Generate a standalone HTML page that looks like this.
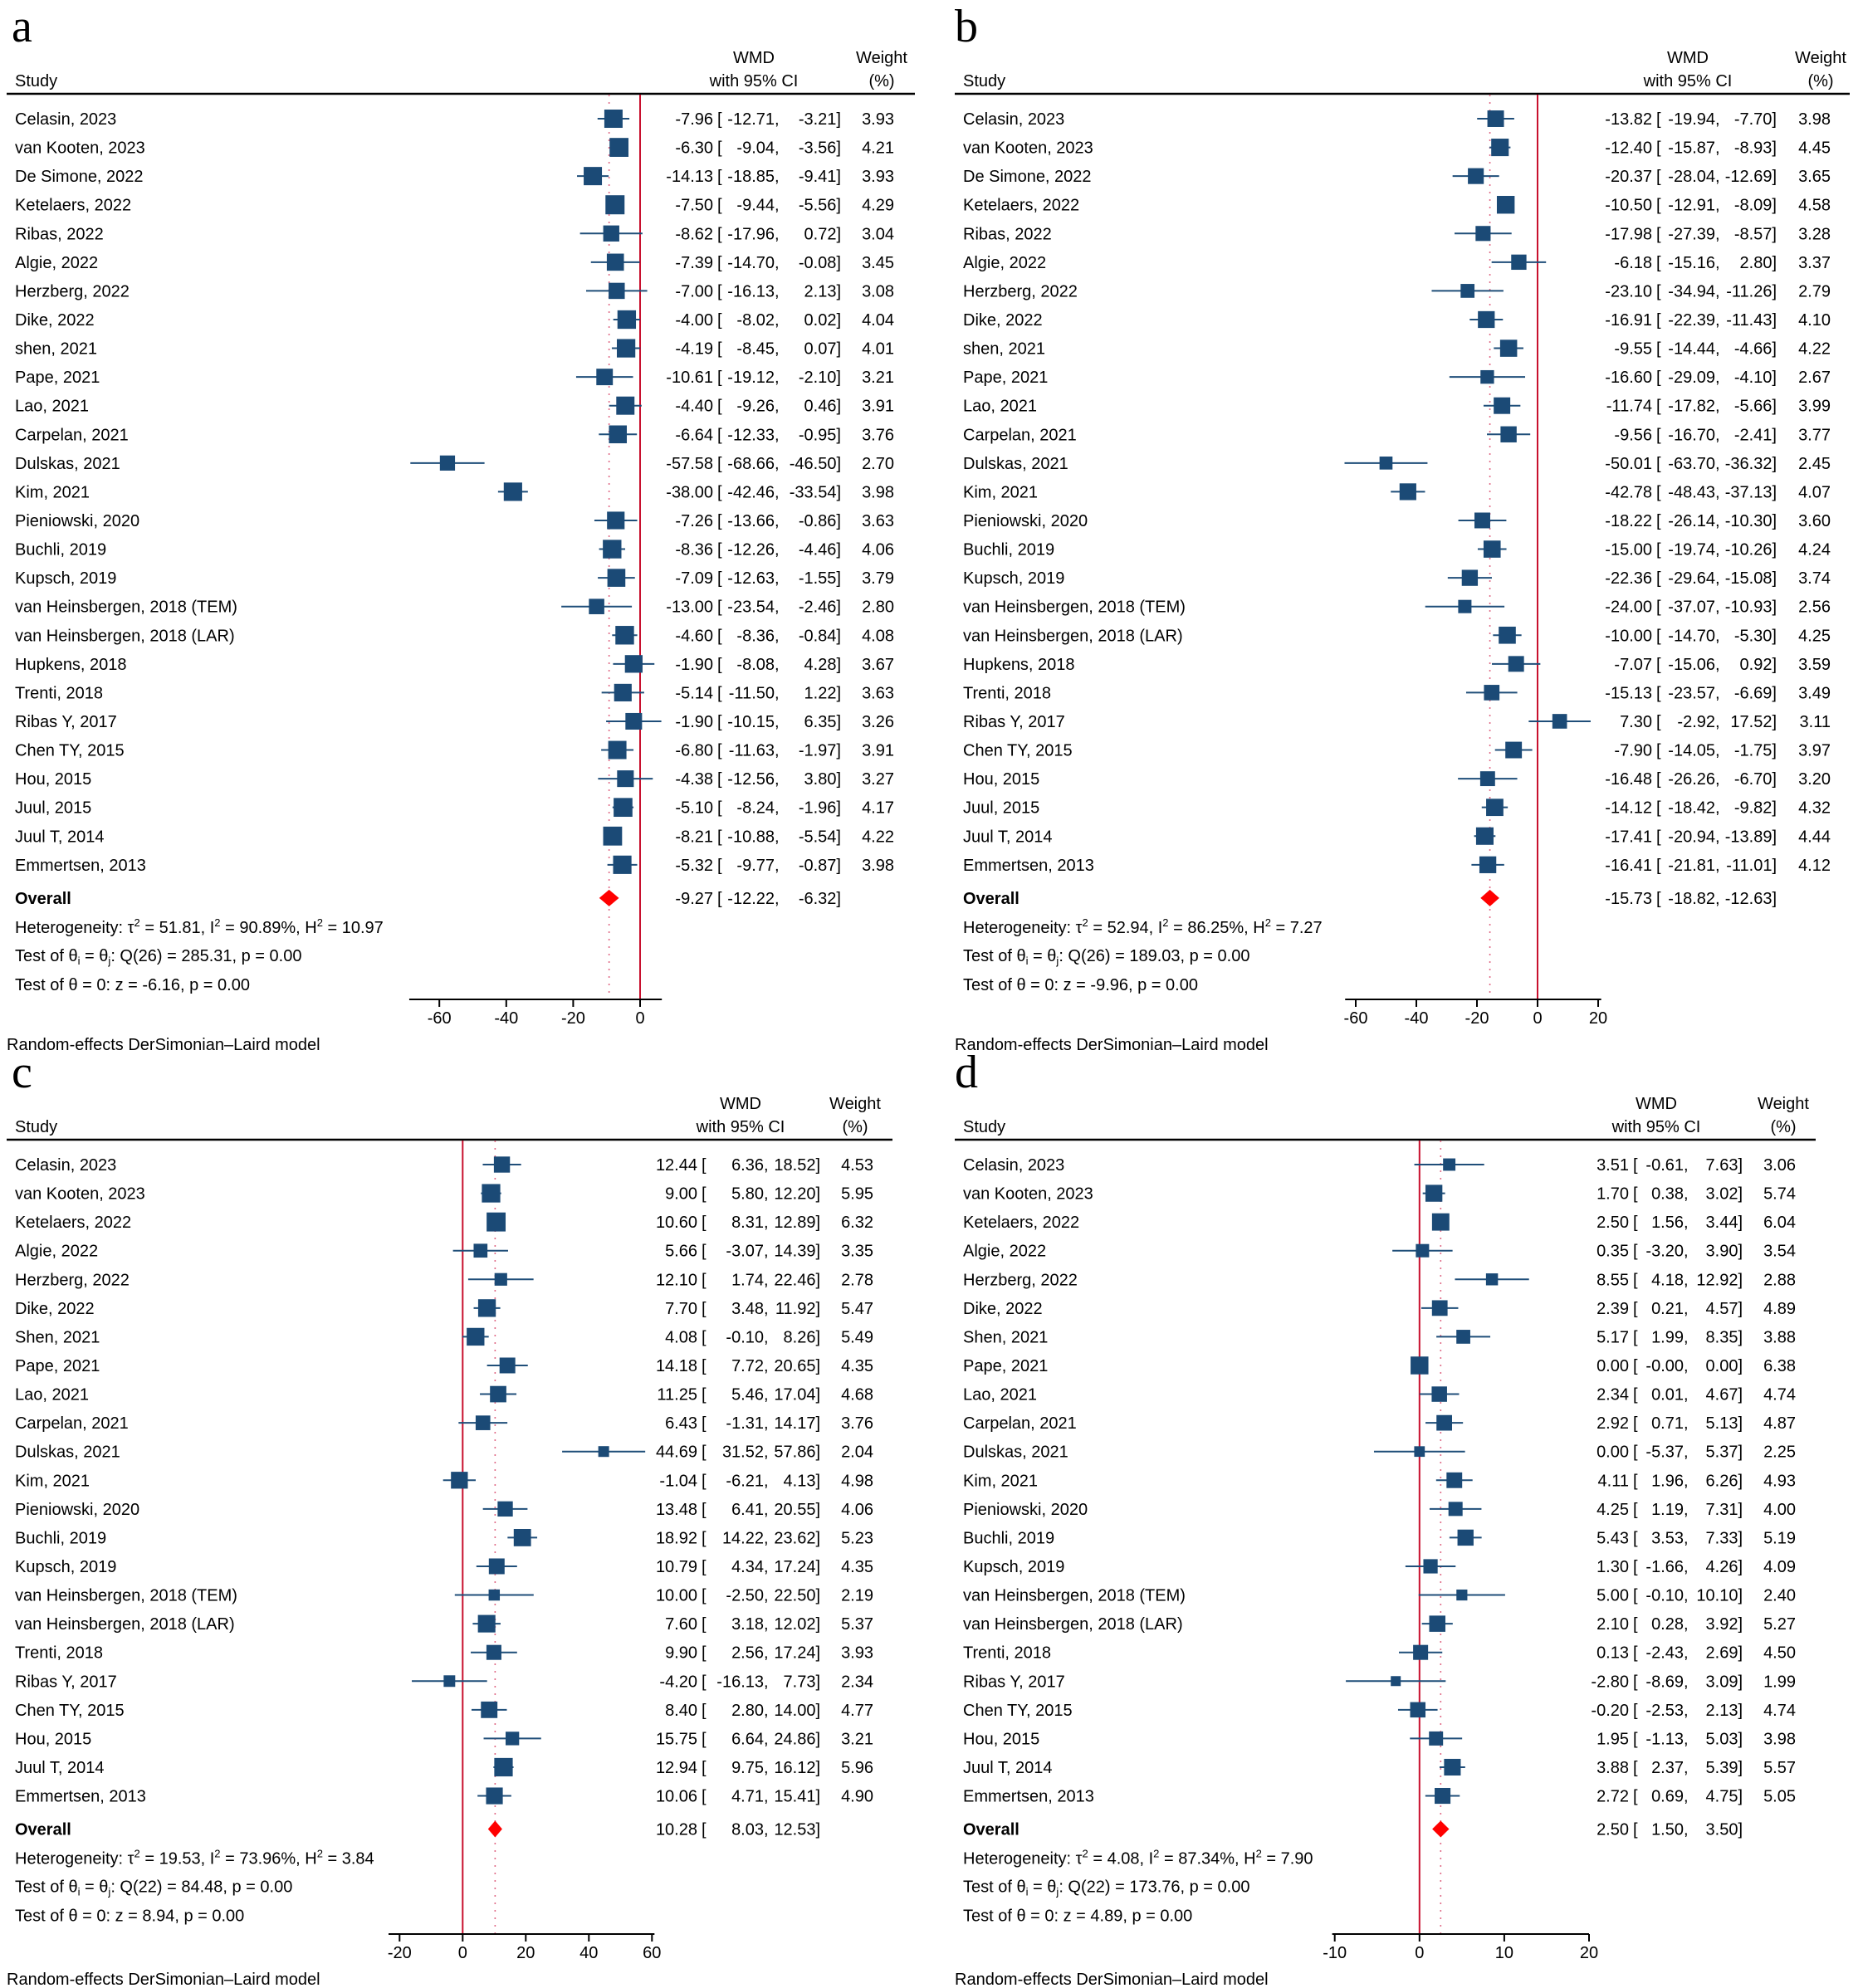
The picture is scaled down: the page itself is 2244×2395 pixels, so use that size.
<!DOCTYPE html>
<html><head><meta charset="utf-8"><style>
html,body{margin:0;padding:0;background:#fff;}
svg{display:block;font-family:"Liberation Sans",Arial,sans-serif;}
</style></head>
<body>
<svg id="chart" width="2244" height="2395" viewBox="0 0 2244 2395" xmlns="http://www.w3.org/2000/svg"></svg>
<script>
// ---------- DATA ----------
const namesA = ["Celasin, 2023","van Kooten, 2023","De Simone, 2022","Ketelaers, 2022","Ribas, 2022","Algie, 2022","Herzberg, 2022","Dike, 2022","shen, 2021","Pape, 2021","Lao, 2021","Carpelan, 2021","Dulskas, 2021","Kim, 2021","Pieniowski, 2020","Buchli, 2019","Kupsch, 2019","van Heinsbergen, 2018 (TEM)","van Heinsbergen, 2018 (LAR)","Hupkens, 2018","Trenti, 2018","Ribas Y, 2017","Chen TY, 2015","Hou, 2015","Juul, 2015","Juul T, 2014","Emmertsen, 2013"];
const estA = [-7.96,-6.30,-14.13,-7.50,-8.62,-7.39,-7.00,-4.00,-4.19,-10.61,-4.40,-6.64,-57.58,-38.00,-7.26,-8.36,-7.09,-13.00,-4.60,-1.90,-5.14,-1.90,-6.80,-4.38,-5.10,-8.21,-5.32];
const loA = [-12.71,-9.04,-18.85,-9.44,-17.96,-14.70,-16.13,-8.02,-8.45,-19.12,-9.26,-12.33,-68.66,-42.46,-13.66,-12.26,-12.63,-23.54,-8.36,-8.08,-11.50,-10.15,-11.63,-12.56,-8.24,-10.88,-9.77];
const hiA = [-3.21,-3.56,-9.41,-5.56,0.72,-0.08,2.13,0.02,0.07,-2.10,0.46,-0.95,-46.50,-33.54,-0.86,-4.46,-1.55,-2.46,-0.84,4.28,1.22,6.35,-1.97,3.80,-1.96,-5.54,-0.87];
const wtA = [3.93,4.21,3.93,4.29,3.04,3.45,3.08,4.04,4.01,3.21,3.91,3.76,2.70,3.98,3.63,4.06,3.79,2.80,4.08,3.67,3.63,3.26,3.91,3.27,4.17,4.22,3.98];
const overallA = [-9.27,-12.22,-6.32];
const hetA = ["51.81","90.89%","10.97","26","285.31","-6.16"];
const ticksA = [-60,-40,-20,0];

const namesB = namesA;
const estB = [-13.82,-12.40,-20.37,-10.50,-17.98,-6.18,-23.10,-16.91,-9.55,-16.60,-11.74,-9.56,-50.01,-42.78,-18.22,-15.00,-22.36,-24.00,-10.00,-7.07,-15.13,7.30,-7.90,-16.48,-14.12,-17.41,-16.41];
const loB = [-19.94,-15.87,-28.04,-12.91,-27.39,-15.16,-34.94,-22.39,-14.44,-29.09,-17.82,-16.70,-63.70,-48.43,-26.14,-19.74,-29.64,-37.07,-14.70,-15.06,-23.57,-2.92,-14.05,-26.26,-18.42,-20.94,-21.81];
const hiB = [-7.70,-8.93,-12.69,-8.09,-8.57,2.80,-11.26,-11.43,-4.66,-4.10,-5.66,-2.41,-36.32,-37.13,-10.30,-10.26,-15.08,-10.93,-5.30,0.92,-6.69,17.52,-1.75,-6.70,-9.82,-13.89,-11.01];
const wtB = [3.98,4.45,3.65,4.58,3.28,3.37,2.79,4.10,4.22,2.67,3.99,3.77,2.45,4.07,3.60,4.24,3.74,2.56,4.25,3.59,3.49,3.11,3.97,3.20,4.32,4.44,4.12];
const overallB = [-15.73,-18.82,-12.63];
const hetB = ["52.94","86.25%","7.27","26","189.03","-9.96"];
const ticksB = [-60,-40,-20,0,20];

const namesC = ["Celasin, 2023","van Kooten, 2023","Ketelaers, 2022","Algie, 2022","Herzberg, 2022","Dike, 2022","Shen, 2021","Pape, 2021","Lao, 2021","Carpelan, 2021","Dulskas, 2021","Kim, 2021","Pieniowski, 2020","Buchli, 2019","Kupsch, 2019","van Heinsbergen, 2018 (TEM)","van Heinsbergen, 2018 (LAR)","Trenti, 2018","Ribas Y, 2017","Chen TY, 2015","Hou, 2015","Juul T, 2014","Emmertsen, 2013"];
const estC = [12.44,9.00,10.60,5.66,12.10,7.70,4.08,14.18,11.25,6.43,44.69,-1.04,13.48,18.92,10.79,10.00,7.60,9.90,-4.20,8.40,15.75,12.94,10.06];
const loC = [6.36,5.80,8.31,-3.07,1.74,3.48,-0.10,7.72,5.46,-1.31,31.52,-6.21,6.41,14.22,4.34,-2.50,3.18,2.56,-16.13,2.80,6.64,9.75,4.71];
const hiC = [18.52,12.20,12.89,14.39,22.46,11.92,8.26,20.65,17.04,14.17,57.86,4.13,20.55,23.62,17.24,22.50,12.02,17.24,7.73,14.00,24.86,16.12,15.41];
const wtC = [4.53,5.95,6.32,3.35,2.78,5.47,5.49,4.35,4.68,3.76,2.04,4.98,4.06,5.23,4.35,2.19,5.37,3.93,2.34,4.77,3.21,5.96,4.90];
const overallC = [10.28,8.03,12.53];
const hetC = ["19.53","73.96%","3.84","22","84.48","8.94"];
const ticksC = [-20,0,20,40,60];

const namesD = namesC;
const estD = [3.51,1.70,2.50,0.35,8.55,2.39,5.17,0.00,2.34,2.92,0.00,4.11,4.25,5.43,1.30,5.00,2.10,0.13,-2.80,-0.20,1.95,3.88,2.72];
const loD = [-0.61,0.38,1.56,-3.20,4.18,0.21,1.99,-0,0.01,0.71,-5.37,1.96,1.19,3.53,-1.66,-0.10,0.28,-2.43,-8.69,-2.53,-1.13,2.37,0.69];
const hiD = [7.63,3.02,3.44,3.90,12.92,4.57,8.35,0.00,4.67,5.13,5.37,6.26,7.31,7.33,4.26,10.10,3.92,2.69,3.09,2.13,5.03,5.39,4.75];
const wtD = [3.06,5.74,6.04,3.54,2.88,4.89,3.88,6.38,4.74,4.87,2.25,4.93,4.00,5.19,4.09,2.40,5.27,4.50,1.99,4.74,3.98,5.57,5.05];
const overallD = [2.50,1.50,3.50];
const hetD = ["4.08","87.34%","7.90","22","173.76","4.89"];
const ticksD = [-10,0,10,20];

// ---------- LAYOUT ----------
const panels = [
 {id:'a',names:namesA,est:estA,lo:loA,hi:hiA,wt:wtA,ov:overallA,het:hetA,ticks:ticksA,
  oy:0,zero:771,ppu:4.03,axMin:-69,axMax:6.5,axisY:1204,estR:859,loR:933,upR:1013,wR:1077,wmdC:908,wtC:1062,lx1:8,lx2:1102,sx:18,k:11.1,letterX:14},
 {id:'b',names:namesB,est:estB,lo:loB,hi:hiB,wt:wtB,ov:overallB,het:hetB,ticks:ticksB,
  oy:0,zero:1852,ppu:3.65,axMin:-63.5,axMax:21,axisY:1204,estR:1990,loR:2066,upR:2140,wR:2205,wmdC:2033,wtC:2193,lx1:1150,lx2:2228,sx:1160,k:10,letterX:1150},
 {id:'c',names:namesC,est:estC,lo:loC,hi:hiC,wt:wtC,ov:overallC,het:hetC,ticks:ticksC,
  oy:1260,zero:557.3,ppu:3.80,axMin:-23.5,axMax:60.8,axisY:2330,estR:840,loR:920,upR:988,wR:1052,wmdC:892,wtC:1030,lx1:8,lx2:1075,sx:18,k:9.1,letterX:14},
 {id:'d',names:namesD,est:estD,lo:loD,hi:hiD,wt:wtD,ov:overallD,het:hetD,ticks:ticksD,
  oy:1260,zero:1709.8,ppu:10.21,axMin:-10.3,axMax:20,axisY:2330,estR:1962,loR:2028,upR:2099,wR:2163,wmdC:1995,wtC:2148,lx1:1150,lx2:2187,sx:1160,k:8.5,letterX:1150}
];
const NS='http://www.w3.org/2000/svg';
const svg=document.getElementById('chart');
const FS=20;
function mk(tag,attrs,parent){const e=document.createElementNS(NS,tag);for(const a in attrs)e.setAttribute(a,attrs[a]);(parent||svg).appendChild(e);return e;}
function txt(parent,x,y,s,anchor,extra){const t=mk('text',Object.assign({x:x,y:y,'font-size':FS,fill:'#000','text-anchor':anchor||'start'},extra||{}),parent);t.textContent=s;return t;}
function fmt(v){if(Object.is(v,-0))return '-0.00';return v.toFixed(2);}
const ROW0=143, ROWH=34.57;

panels.forEach(p=>{
  const g=mk('g',{});
  
  
  const X=v=>p.zero+v*p.ppu;
  const oy=p.oy;
  const n=p.names.length;
  const rowY=i=>oy+ROW0+i*ROWH;
  const ovY=rowY(n-1)+40;
  const L=mk('text',{x:p.letterX,y:oy+50,'font-size':56,'font-family':'"Liberation Serif",serif',fill:'#000'},g);
  L.textContent=p.id;
  
  
  const h1=txt(g,p.sx,oy+104,'Study');
  
  
  const h2=txt(g,p.wmdC,oy+76,'WMD','middle');
  
  
  txt(g,p.wmdC,oy+104,'with 95% CI','middle');
  const h3=txt(g,p.wtC,oy+76,'Weight','middle');
  
  
  txt(g,p.wtC,oy+104,'(%)','middle');
  const hl=mk('line',{x1:p.lx1,x2:p.lx2,y1:oy+113,y2:oy+113,stroke:'#000','stroke-width':2.5},g);
  
  
  const zl=mk('line',{x1:X(0),x2:X(0),y1:oy+114,y2:p.axisY,stroke:'#c8102e','stroke-width':2},g);
  
  
  const dl=mk('line',{x1:X(p.ov[0]),x2:X(p.ov[0]),y1:oy+114,y2:p.axisY,stroke:'#e06a86','stroke-width':1.6,'stroke-dasharray':'2 7'},g);
  
  
  for(let i=0;i<n;i++){
    const y=rowY(i);
    const rg=mk('g',{},g);
    
    
    const nm=txt(rg,p.sx,y+7,p.names[i]);
    
    
    const ci=mk('line',{x1:X(p.lo[i]),x2:X(p.hi[i]),y1:y,y2:y,stroke:'#1f4e79','stroke-width':2},rg);
    
    
    const s=p.k*Math.sqrt(p.wt[i]);
    const sq=mk('rect',{x:X(p.est[i])-s/2,y:y-s/2,width:s,height:s,fill:'#1b4a76'},rg);
    
    
    txt(rg,p.estR,y+7,fmt(p.est[i]),'end');
    txt(rg,p.estR+5,y+7,'[');
    txt(rg,p.loR,y+7,fmt(p.lo[i]),'end');
    txt(rg,p.loR,y+7,',');
    txt(rg,p.upR,y+7,fmt(p.hi[i])+']','end');
    txt(rg,p.wR,y+7,fmt(p.wt[i]),'end');
  }
  const og=mk('g',{},g);
  
  
  txt(og,p.sx,ovY+7,'Overall','start',{'font-weight':'bold'});
  const dm=mk('polygon',{points:[X(p.ov[1])+','+ovY, X(p.ov[0])+','+(ovY-10), X(p.ov[2])+','+ovY, X(p.ov[0])+','+(ovY+10)].join(' '),fill:'#ff0000'},og);
  
  
  txt(og,p.estR,ovY+7,fmt(p.ov[0]),'end');
  txt(og,p.estR+5,ovY+7,'[');
  txt(og,p.loR,ovY+7,fmt(p.ov[1]),'end');
  txt(og,p.loR,ovY+7,',');
  txt(og,p.upR,ovY+7,fmt(p.ov[2])+']','end');
  const t1=mk('text',{x:p.sx,y:ovY+42,'font-size':FS},g);
  
  
  t1.innerHTML='Heterogeneity: τ<tspan dy="-8" font-size="13">2</tspan><tspan dy="8"> = '+p.het[0]+', I</tspan><tspan dy="-8" font-size="13">2</tspan><tspan dy="8"> = '+p.het[1]+', H</tspan><tspan dy="-8" font-size="13">2</tspan><tspan dy="8"> = '+p.het[2]+'</tspan>';
  const t2=mk('text',{x:p.sx,y:ovY+76,'font-size':FS},g);
  
  
  t2.innerHTML='Test of θ<tspan dy="4" font-size="13">i</tspan><tspan dy="-4"> = θ</tspan><tspan dy="4" font-size="13">j</tspan><tspan dy="-4">: Q('+p.het[3]+') = '+p.het[4]+', p = 0.00</tspan>';
  const t3=txt(g,p.sx,ovY+111,'Test of θ = 0: z = '+p.het[5]+', p = 0.00');
  
  
  const ax=mk('line',{x1:X(p.axMin),x2:X(p.axMax),y1:p.axisY,y2:p.axisY,stroke:'#000','stroke-width':2},g);
  
  
  p.ticks.forEach(t=>{
    const tk=mk('line',{x1:X(t),x2:X(t),y1:p.axisY,y2:p.axisY+9,stroke:'#000','stroke-width':2},g);
    
    
    const tl=txt(g,X(t),p.axisY+29,String(t),'middle');
    
    
  });
  const rm=txt(g,p.lx1,p.axisY+61,'Random-effects DerSimonian–Laird model');
  
  
});
</script>
</body></html>
